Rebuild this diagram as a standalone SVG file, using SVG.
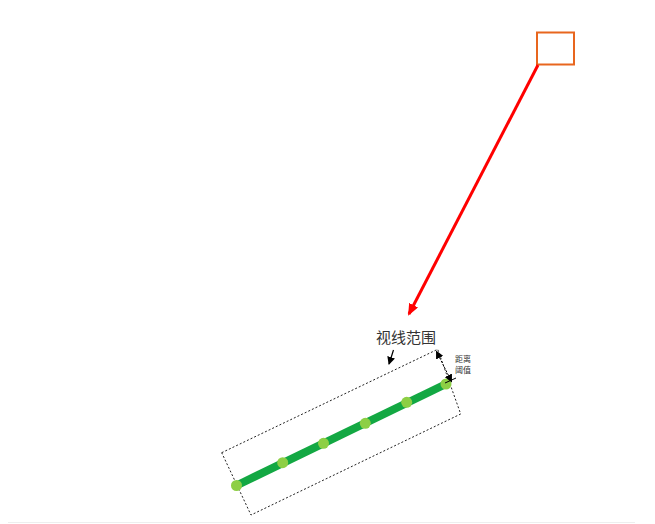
<svg xmlns="http://www.w3.org/2000/svg" width="655" height="524" viewBox="0 0 655 524">
<defs>
<style>
.lbl{font-family:"Noto Sans CJK SC","Liberation Serif",serif;fill:#333}
.dot{fill:#8DCF45}
</style>
<marker id="redHead" markerWidth="12" markerHeight="10" refX="10" refY="5" orient="auto" markerUnits="userSpaceOnUse"><path d="M0,0 L12,5 L0,10 Z" fill="#FF0000"/></marker>
<marker id="blkHead" markerWidth="8" markerHeight="8" refX="7" refY="4" orient="auto" markerUnits="userSpaceOnUse"><path d="M0,0 L8,4 L0,8 Z" fill="#000"/></marker>
<marker id="blkTail" markerWidth="8" markerHeight="8" refX="1" refY="4" orient="auto" markerUnits="userSpaceOnUse"><path d="M8,0 L0,4 L8,8 Z" fill="#000"/></marker>
</defs>
<rect width="655" height="524" fill="#fff"/>
<line x1="8" y1="522.5" x2="635" y2="522.5" stroke="#eeeeee" stroke-width="1"/>
<g id="source">
<rect x="537" y="32.5" width="37" height="32" fill="none" stroke="#E8661E" stroke-width="2"/>
</g>
<g id="view-range">
<polygon points="221.7,452.7 437.7,349.3 460.7,414 251,515" fill="none" stroke="#222" stroke-width="1" stroke-dasharray="2,2"/>
</g>
<g id="polyline">
<line x1="236.5" y1="485.5" x2="446" y2="384" stroke="#13A843" stroke-width="8"/>
<circle class="dot" cx="236.5" cy="485.5" r="5.5"/>
<circle class="dot" cx="282.7" cy="462.7" r="5.5"/>
<circle class="dot" cx="323.5" cy="443.3" r="5.5"/>
<circle class="dot" cx="365.3" cy="423.3" r="5.5"/>
<circle class="dot" cx="406.7" cy="402.3" r="5.5"/>
<circle class="dot" cx="446" cy="384" r="5.5"/>
</g>
<g id="label-range">
<text class="lbl" x="376" y="343" font-size="15">视线范围</text>
</g>
<g id="label-threshold">
<text class="lbl" x="455" y="362" font-size="8">距离</text>
<text class="lbl" x="455" y="373" font-size="8">阈值</text>
</g>
<g id="connectors">
<line x1="538" y1="65" x2="409" y2="314" stroke="#FF0000" stroke-width="3" marker-end="url(#redHead)"/>
<line x1="393.5" y1="350" x2="389" y2="364" stroke="#000" stroke-width="1.2" marker-end="url(#blkHead)"/>
<line x1="436.5" y1="351.5" x2="451.5" y2="381.5" stroke="#000" stroke-width="1" stroke-dasharray="2,1.5" marker-start="url(#blkTail)" marker-end="url(#blkHead)"/>
<line x1="445" y1="383" x2="456" y2="378" stroke="#000" stroke-width="1"/>
</g>
</svg>
